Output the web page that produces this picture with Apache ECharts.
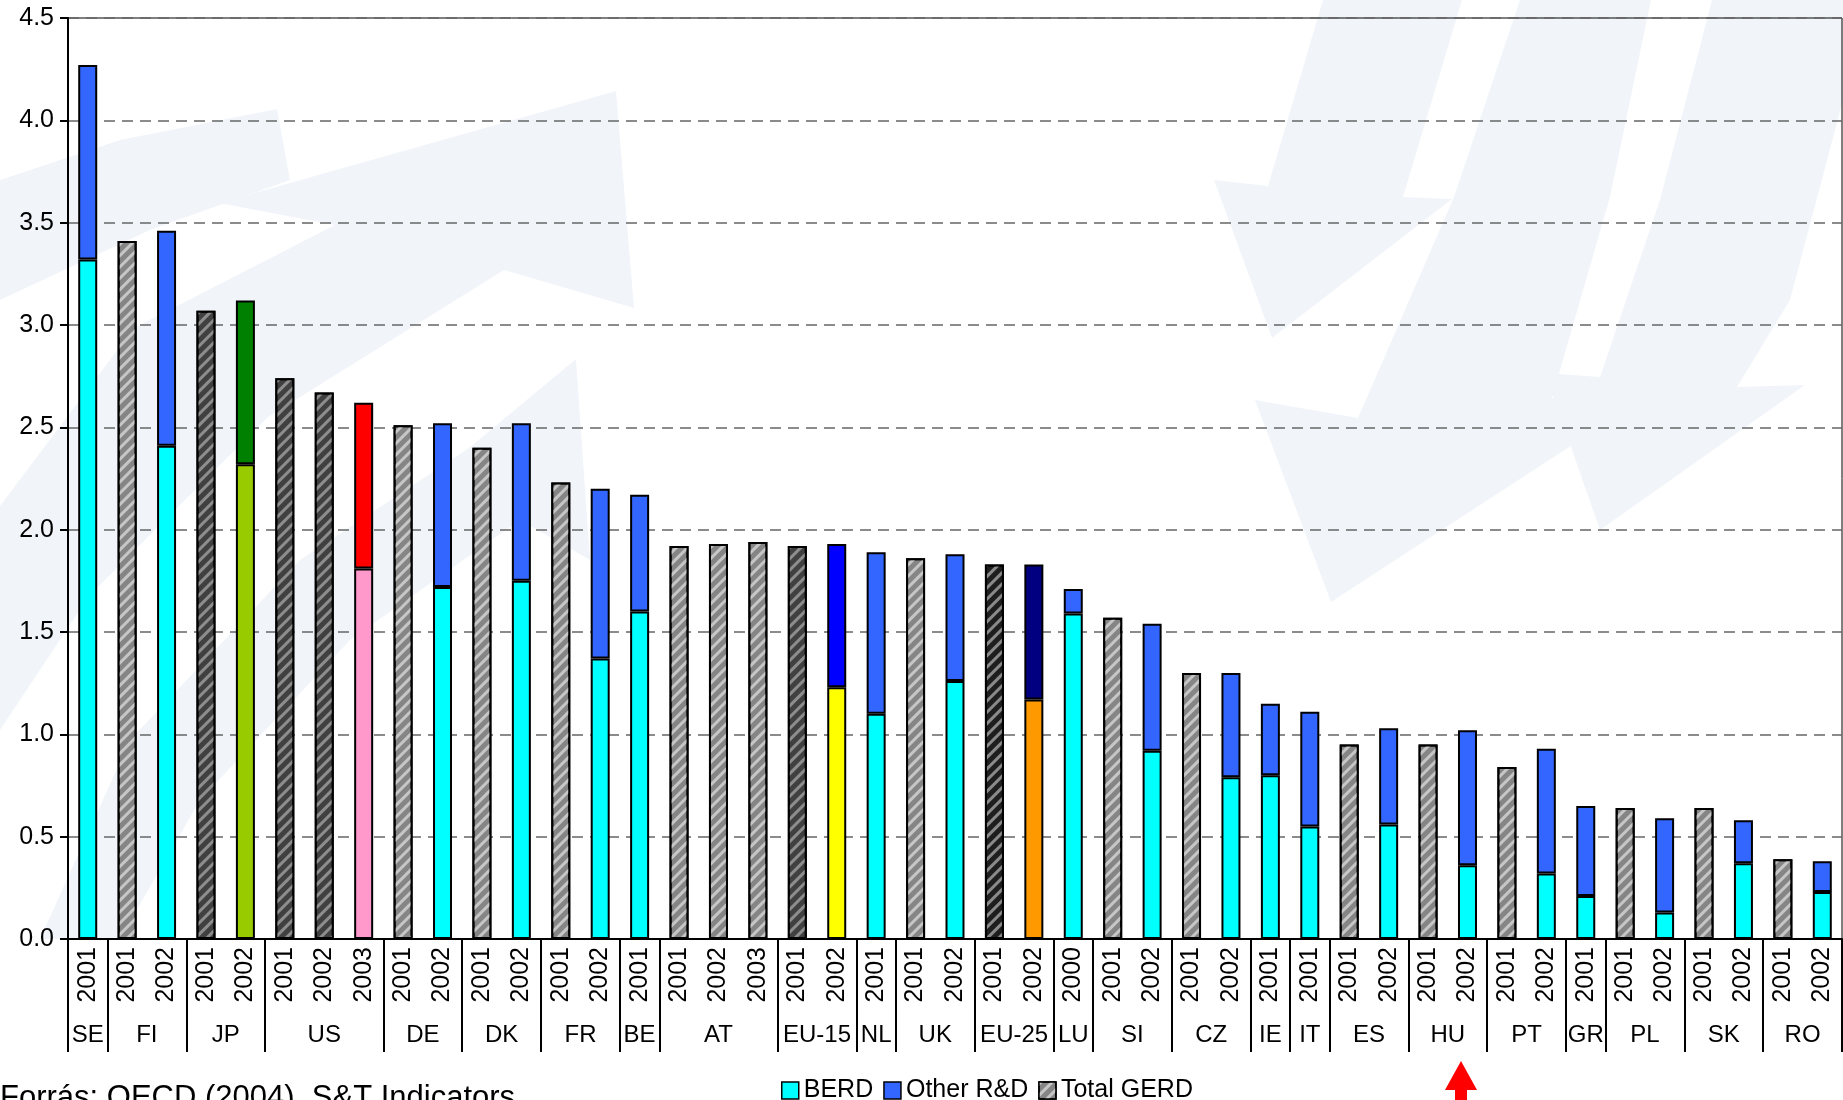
<!DOCTYPE html>
<html>
<head>
<meta charset="utf-8">
<title>GERD</title>
<script src="https://cdn.jsdelivr.net/npm/echarts@6/dist/echarts.min.js"></script>
<style>
  html, body { margin: 0; padding: 0; background: #fff; }
  #chart { width: 1843px; height: 1100px; }
</style>
</head>
<body>
<div id="chart"></div>
<script>
// országok és az évek száma csoportonként
const countries = ['SE', 'FI', 'JP', 'US', 'DE', 'DK', 'FR', 'BE', 'AT', 'EU-15', 'NL', 'UK', 'EU-25',
  'LU', 'SI', 'CZ', 'IE', 'IT', 'ES', 'HU', 'PT', 'GR', 'PL', 'SK', 'RO'];
const countrySpan = [1, 2, 2, 3, 2, 2, 2, 1, 3, 2, 1, 2, 2, 1, 2, 2, 1, 1, 2, 2, 2, 1, 2, 2, 2];

const years = ['2001', '2001', '2002', '2001', '2002', '2001', '2002', '2003', '2001', '2002',
  '2001', '2002', '2001', '2002', '2001', '2001', '2002', '2003', '2001', '2002',
  '2001', '2001', '2002', '2001', '2002', '2000', '2001', '2002', '2001', '2002',
  '2001', '2001', '2001', '2002', '2001', '2002', '2001', '2002', '2001', '2001',
  '2002', '2001', '2002', '2001', '2002'];

// BERD (null = csak összes GERD ismert)
const berd = [3.32, null, 2.41, null, 2.32, null, null, 1.81, null, 1.72,
  null, 1.75, null, 1.37, 1.60, null, null, null, null, 1.23,
  1.10, null, 1.26, null, 1.17, 1.59, null, 0.92, null, 0.79,
  0.80, 0.55, null, 0.56, null, 0.36, null, 0.32, 0.21, null,
  0.13, null, 0.37, null, 0.23];

// teljes GERD (a GDP %-ában)
const gerd = [4.27, 3.41, 3.46, 3.07, 3.12, 2.74, 2.67, 2.62, 2.51, 2.52,
  2.40, 2.52, 2.23, 2.20, 2.17, 1.92, 1.93, 1.94, 1.92, 1.93,
  1.89, 1.86, 1.88, 1.83, 1.83, 1.71, 1.57, 1.54, 1.30, 1.30,
  1.15, 1.11, 0.95, 1.03, 0.95, 1.02, 0.84, 0.93, 0.65, 0.64,
  0.59, 0.64, 0.58, 0.39, 0.38];

const yTicks = { min: 0, max: 4.5, interval: 0.5 };

// kiemelt oszlopok színei: [BERD, egyéb]
const specialColors = {
  4: ['#99CC00', '#008000'],
  7: ['#FF99CC', '#FF0000'],
  19: ['#FFFF00', '#0000FF'],
  24: ['#FF9900', '#000080']
};
// sötét csíkozású összes-oszlopok
const darkTotals = { 3: '#404040', 5: '#404040', 6: '#404040', 18: '#404040', 23: '#1e1e1e' };

const FONT = 'Arial, "Liberation Sans", sans-serif';

function hatch(stripe) {
  return {
    symbol: 'rect',
    symbolSize: 1,
    dashArrayX: [1, 0],
    dashArrayY: [3, 5],
    rotation: -Math.PI / 4,
    color: stripe
  };
}

// második tengely: félkategóriás felbontás, hogy a címkék a csoport közepére kerüljenek
const countryAxis = new Array(years.length * 2 + 1).fill('');
const boundaries = new Set([years.length * 2]);
let start = 0;
countries.forEach((c, i) => {
  boundaries.add(start * 2);
  countryAxis[start * 2 + countrySpan[i]] = c;
  start += countrySpan[i];
});

const berdData = berd.map((v, i) => {
  if (v == null) return '-';
  const sc = specialColors[i];
  return sc ? { value: v, itemStyle: { color: sc[0] } } : v;
});
const otherData = berd.map((v, i) => {
  if (v == null) return '-';
  const val = +(gerd[i] - v).toFixed(2);
  const sc = specialColors[i];
  return sc ? { value: val, itemStyle: { color: sc[1] } } : val;
});
const totalData = berd.map((v, i) => {
  if (v != null) return '-';
  const dark = darkTotals[i];
  return dark ? { value: gerd[i], itemStyle: { color: dark, decal: hatch('rgba(150,150,150,0.9)') } } : gerd[i];
});

// halvány háttérlogó
const watermark = [
  [[616, 91], [634, 308], [504, 270], [268, 417], [89, 596], [0, 730], [0, 506], [134, 328], [335, 225], [219, 203]],
  [[277, 109], [290, 180], [150, 230], [0, 300], [0, 180], [120, 140]],
  [[576, 359], [590, 560], [520, 520], [350, 640], [200, 800], [120, 939], [40, 939], [130, 740], [300, 560], [469, 448]],
  [[1323, 0], [1462, 0], [1403, 197], [1452, 199], [1272, 338], [1214, 180], [1268, 186]],
  [[1520, 0], [1651, 0], [1610, 197], [1552, 398], [1626, 410], [1331, 602], [1255, 400], [1358, 418], [1454, 197]],
  [[1712, 0], [1843, 0], [1843, 100], [1790, 300], [1737, 387], [1805, 385], [1600, 530], [1545, 373], [1600, 377], [1660, 200]]
];

const chart = echarts.init(document.getElementById('chart'), null, { renderer: 'canvas' });

chart.setOption({
  backgroundColor: '#fff',
  animation: false,
  textStyle: { fontFamily: FONT, color: '#000' },
  grid: {
    left: 68, right: 1, top: 18, bottom: 161,
    show: true, borderColor: '#000', borderWidth: 1,
    outerBoundsMode: 'none'
  },
  legend: {
    left: 776, top: 1073,
    icon: 'rect', itemWidth: 17, itemHeight: 17, itemGap: 10,
    textStyle: { fontSize: 25, color: '#000', fontFamily: FONT },
    itemStyle: { borderColor: '#000', borderWidth: 1.5 },
    data: ['BERD', 'Other R&D', 'Total GERD']
  },
  xAxis: [
    {
      type: 'category',
      data: years,
      position: 'bottom',
      axisLine: { lineStyle: { color: '#000', width: 2 } },
      axisTick: { interval: 0, length: 74, lineStyle: { color: '#000', width: 2 } },
      axisLabel: { interval: 0, rotate: 90, margin: 8, fontSize: 25, color: '#000', fontFamily: FONT },
      splitLine: { show: false }
    },
    {
      type: 'category',
      data: countryAxis,
      position: 'bottom',
      boundaryGap: false,
      axisLine: { show: false },
      axisTick: {
        interval: (idx) => boundaries.has(idx),
        length: 113,
        lineStyle: { color: '#000', width: 2 }
      },
      axisLabel: { interval: 0, margin: 84, fontSize: 24, color: '#000', fontFamily: FONT },
      splitLine: { show: false }
    }
  ],
  yAxis: {
    type: 'value',
    min: yTicks.min, max: yTicks.max, interval: yTicks.interval,
    axisLine: { show: true, lineStyle: { color: '#000', width: 2 } },
    axisTick: { show: true, length: 8, lineStyle: { color: '#000', width: 2 } },
    axisLabel: { fontSize: 25, margin: 14, color: '#000', fontFamily: FONT, formatter: (v) => v.toFixed(1) },
    splitLine: { lineStyle: { color: '#666', width: 1.5, type: [11, 7] } }
  },
  series: [
    {
      name: 'BERD', type: 'bar', stack: 'r', barWidth: 19,
      itemStyle: { color: '#00FFFF', borderColor: '#000', borderWidth: 2 },
      data: berdData
    },
    {
      name: 'Other R&D', type: 'bar', stack: 'r', barWidth: 19,
      itemStyle: { color: '#3366FF', borderColor: '#000', borderWidth: 2 },
      data: otherData
    },
    {
      name: 'Total GERD', type: 'bar', stack: 'r', barWidth: 19,
      itemStyle: { color: '#858585', borderColor: '#000', borderWidth: 2, decal: hatch('rgba(205,205,205,0.9)') },
      data: totalData
    }
  ],
  graphic: [
    ...watermark.map((pts) => ({
      type: 'polygon', z: -10, silent: true,
      shape: { points: pts },
      style: { fill: '#F1F5FA' }
    })),
    {
      type: 'text', left: 0, top: 1083, silent: true,
      style: { text: 'Forrás: OECD (2004), S&T Indicators', fontSize: 31, fontFamily: FONT, fill: '#000' }
    },
    {
      type: 'polygon', silent: true,
      shape: { points: [[1461, 1061], [1477, 1090], [1467, 1090], [1467, 1100], [1455, 1100], [1455, 1090], [1445, 1090]] },
      style: { fill: '#FF0000' }
    }
  ]
});

window.addEventListener('resize', () => chart.resize());
</script>
</body>
</html>
